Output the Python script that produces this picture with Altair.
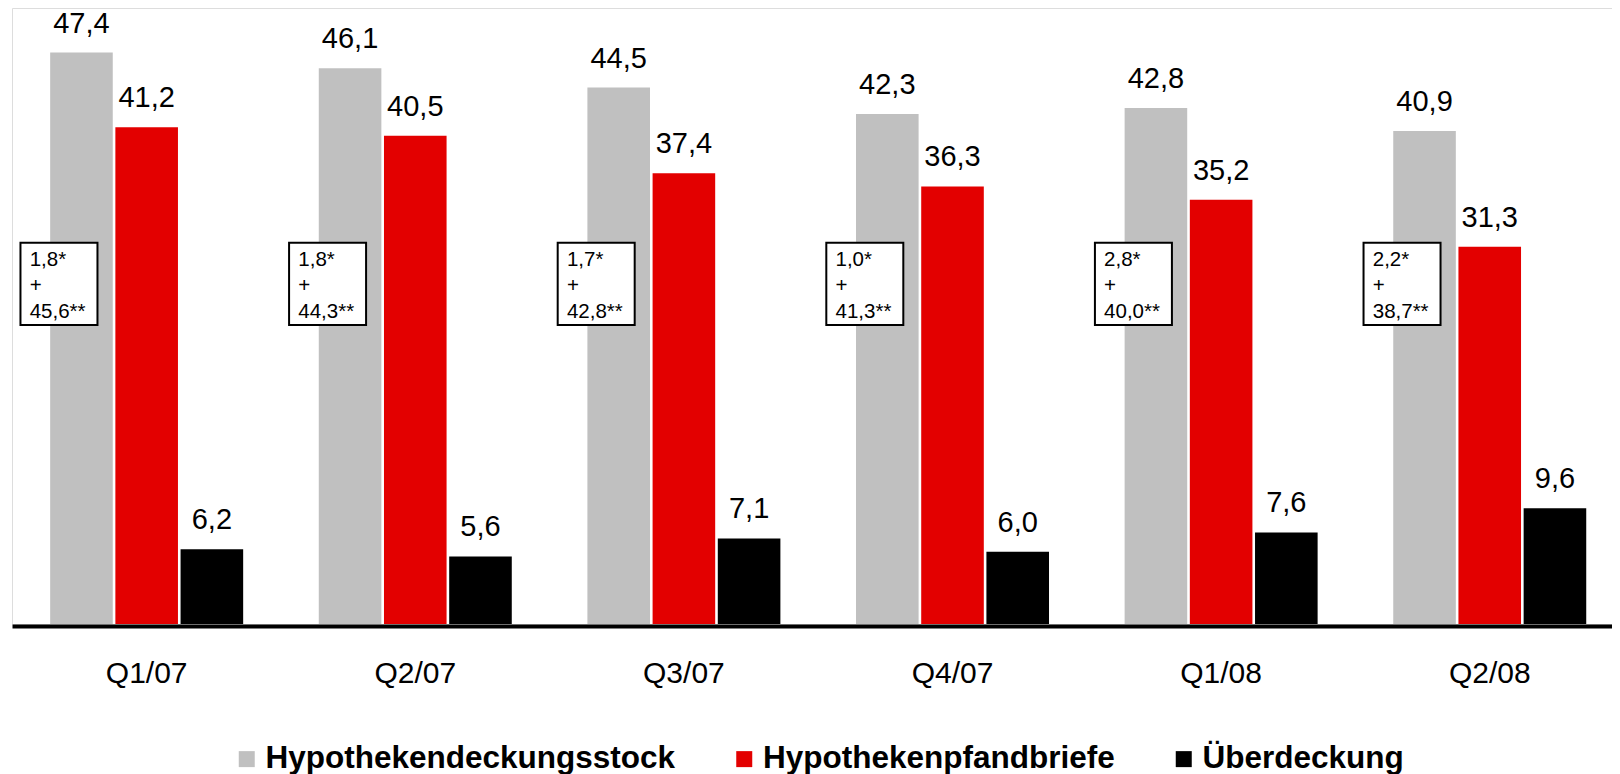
import altair as alt
import pandas as pd

# ---- data ----
quarters = ["Q1/07", "Q2/07", "Q3/07", "Q4/07", "Q1/08", "Q2/08"]
series = ["Hypothekendeckungsstock", "Hypothekenpfandbriefe", "Überdeckung"]
deckungsstock = [47.4, 46.1, 44.5, 42.3, 42.8, 40.9]
pfandbriefe = [41.2, 40.5, 37.4, 36.3, 35.2, 31.3]
ueberdeckung = [6.2, 5.6, 7.1, 6.0, 7.6, 9.6]
teil_a = [1.8, 1.8, 1.7, 1.0, 2.8, 2.2]      # *
teil_b = [45.6, 44.3, 42.8, 41.3, 40.0, 38.7]  # **

# ---- styles / layout ----
colors = ["#C0C0C0", "#E30000", "#000000"]
FONT = "Liberation Sans"
BOX_TOP = 31.62
BOX_BOTTOM = 24.81
BOX_TEXT_Y = 29.73


def de(v):
    return f"{v:.1f}".replace(".", ",")


rows = []
for i, q in enumerate(quarters):
    for s, vals in zip(series, [deckungsstock, pfandbriefe, ueberdeckung]):
        rows.append({"quarter": q, "series": s, "value": vals[i], "label": de(vals[i])})
df = pd.DataFrame(rows)

box_df = pd.DataFrame({
    "quarter": quarters,
    "note": [f"{de(a)}*\n+\n{de(b)}**" for a, b in zip(teil_a, teil_b)],
})

x_enc = alt.X(
    "quarter:N",
    sort=quarters,
    scale=alt.Scale(paddingInner=0.2815, paddingOuter=0.119, align=0.597),
    axis=alt.Axis(
        title=None, labelFontSize=30, labelFont=FONT, labelColor="black",
        domainColor="black", domainWidth=4, ticks=False, labelPadding=32,
        offset=2, labelAngle=0,
    ),
)
xoff_enc = alt.XOffset("series:N", sort=series, scale=alt.Scale(paddingInner=0.04))
y_enc = alt.Y("value:Q", scale=alt.Scale(domain=[0, 51.1], nice=False, zero=True), axis=None)
color_enc = alt.Color(
    "series:N",
    sort=series,
    scale=alt.Scale(domain=series, range=colors),
    legend=alt.Legend(
        title=None, orient="none", legendX=219, legendY=735, direction="horizontal",
        symbolType="square", symbolSize=256, symbolStrokeWidth=0,
        labelFontSize=31.5, labelFontWeight="bold", labelFont=FONT, labelColor="black",
        labelOffset=3, columnPadding=52.5, labelLimit=0, padding=0,
    ),
)

bars = alt.Chart(df).mark_bar().encode(x=x_enc, xOffset=xoff_enc, y=y_enc, color=color_enc)

labels = alt.Chart(df).mark_text(
    fontSize=29, font=FONT, baseline="alphabetic", dy=-20, color="black"
).encode(
    x=alt.X("quarter:N", sort=quarters),
    xOffset=alt.XOffset("series:N", sort=series),
    y="value:Q",
    text="label:N",
)

boxes = alt.Chart(box_df).mark_bar(
    width=77, fill="white", stroke="black", strokeWidth=2, xOffset=-87.7
).encode(
    x=alt.X("quarter:N", sort=quarters),
    y=alt.datum(BOX_TOP),
    y2=alt.datum(BOX_BOTTOM),
)

box_text = alt.Chart(box_df).mark_text(
    fontSize=20.5, font=FONT, align="left", baseline="alphabetic",
    lineBreak="\n", lineHeight=26, color="black", xOffset=-117,
).encode(
    x=alt.X("quarter:N", sort=quarters),
    y=alt.datum(BOX_TEXT_Y),
    text="note:N",
)

chart = (
    alt.layer(bars, labels, boxes, box_text)
    .properties(width=1600, height=616, padding={"left": 4, "top": 0, "right": 0, "bottom": 0})
    .configure_view(stroke=None)
    .configure(background="white")
)

chart.save("out.html", embed_options={"renderer": "svg", "actions": False})
